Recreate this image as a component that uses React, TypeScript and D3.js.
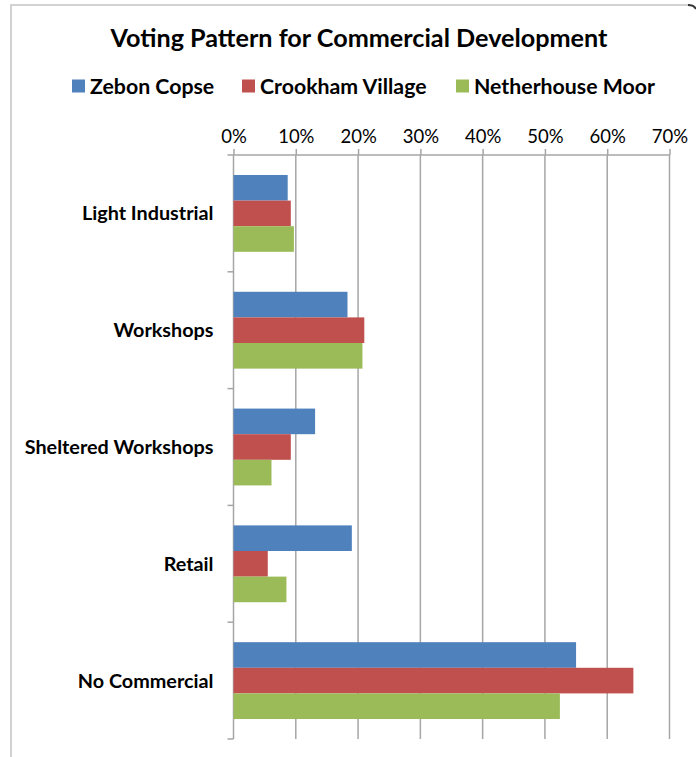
import { useEffect, useRef } from "react";
import { axisTop, scaleBand, scaleLinear, select } from "d3";

const categories = [
  "Light Industrial",
  "Workshops",
  "Sheltered Workshops",
  "Retail",
  "No Commercial",
];
const seriesNames = ["Zebon Copse", "Crookham Village", "Netherhouse Moor"];
const seriesColors = ["#4f81bd", "#c0504d", "#9bbb59"];
const zebonCopse = [8.7, 18.3, 13.1, 19.0, 55.0];
const crookhamVillage = [9.2, 21.0, 9.2, 5.5, 64.2];
const netherhouseMoor = [9.7, 20.7, 6.1, 8.5, 52.4];
const xTicks = [0, 10, 20, 30, 40, 50, 60, 70];

const FONT = "Lato, 'Open Sans', sans-serif";

export default function App() {
  const svgRef = useRef<SVGSVGElement>(null);

  useEffect(() => {
    document.body.style.margin = "0";
    const svg = select(svgRef.current);
    svg.selectAll("*").remove();

    const W = 696;
    const H = 757;
    const left = 233.5;
    const right = 669.5;
    const top = 155;
    const bottom = 739;

    const series = [zebonCopse, crookhamVillage, netherhouseMoor];

    const x = scaleLinear().domain([0, 70]).range([left, right]);
    const y0 = scaleBand<string>().domain(categories).range([top, bottom]);
    const y1 = scaleBand<string>()
      .domain(seriesNames)
      .range([0, y0.bandwidth()])
      .paddingOuter(0.78)
      .paddingInner(0);

    svg.append("rect").attr("width", W).attr("height", H).attr("fill", "#fff");

    // outer frame
    svg
      .append("path")
      .attr("d", `M11,${H} V5 H688`)
      .attr("fill", "none")
      .attr("stroke", "#c4c4c4")
      .attr("stroke-width", 1.5);
    svg
      .append("path")
      .attr("d", "M688,5 Q694,5 696,9")
      .attr("fill", "none")
      .attr("stroke", "#333")
      .attr("stroke-width", 2);

    // title
    svg
      .append("text")
      .attr("x", 359)
      .attr("y", 47)
      .attr("text-anchor", "middle")
      .attr("font-family", FONT)
      .attr("font-weight", "bold")
      .attr("font-size", 25.2)
      .attr("fill", "#000")
      .text("Voting Pattern for Commercial Development");

    // legend
    const legendX = [72, 242, 456];
    seriesNames.forEach((name, i) => {
      const g = svg.append("g").attr("transform", `translate(${legendX[i]},86)`);
      g.append("rect")
        .attr("x", 0)
        .attr("y", -6.5)
        .attr("width", 13)
        .attr("height", 13)
        .attr("fill", seriesColors[i]);
      g.append("text")
        .attr("x", 18)
        .attr("y", 7.5)
        .attr("font-family", FONT)
        .attr("font-weight", "bold")
        .attr("font-size", 21.3)
        .attr("fill", "#000")
        .text(name);
    });

    // gridlines
    svg
      .append("g")
      .selectAll("line")
      .data(xTicks.slice(1))
      .join("line")
      .attr("x1", (d) => x(d))
      .attr("x2", (d) => x(d))
      .attr("y1", top)
      .attr("y2", bottom)
      .attr("stroke", "#a6a6a6")
      .attr("stroke-width", 1.5);

    // top axis
    const xAxis = axisTop(x)
      .tickValues(xTicks)
      .tickSize(6)
      .tickPadding(6)
      .tickFormat((d) => `${d}%`);
    const gx = svg
      .append("g")
      .attr("transform", `translate(0,${top})`)
      .call(xAxis as any);
    gx.select(".domain")
      .attr("d", `M${left - 6},0 H${right}`)
      .attr("stroke", "#a6a6a6")
      .attr("stroke-width", 1.5);
    gx.selectAll(".tick line").attr("stroke", "#a6a6a6").attr("stroke-width", 1.5);
    gx.selectAll(".tick text")
      .attr("font-family", FONT)
      .attr("font-size", 18.5)
      .attr("fill", "#000");

    // left axis with band boundary ticks
    svg
      .append("line")
      .attr("x1", left)
      .attr("x2", left)
      .attr("y1", top)
      .attr("y2", bottom)
      .attr("stroke", "#a6a6a6")
      .attr("stroke-width", 1.5);
    const boundaries = categories.map((c) => y0(c) as number).concat([bottom]);
    svg
      .append("g")
      .selectAll("line")
      .data(boundaries.slice(1))
      .join("line")
      .attr("x1", left - 6)
      .attr("x2", left)
      .attr("y1", (d) => d)
      .attr("y2", (d) => d)
      .attr("stroke", "#a6a6a6")
      .attr("stroke-width", 1.5);

    // category labels
    svg
      .append("g")
      .selectAll("text")
      .data(categories)
      .join("text")
      .attr("x", left - 20)
      .attr("y", (d) => (y0(d) as number) + y0.bandwidth() / 2 + 7)
      .attr("text-anchor", "end")
      .attr("font-family", FONT)
      .attr("font-weight", "bold")
      .attr("font-size", 19.8)
      .attr("fill", "#000")
      .text((d) => d);

    // bars
    categories.forEach((cat, ci) => {
      const g = svg.append("g").attr("transform", `translate(0,${y0(cat)})`);
      g.selectAll("rect")
        .data(seriesNames.map((name, si) => ({ name, value: series[si][ci], si })))
        .join("rect")
        .attr("x", x(0))
        .attr("y", (d) => y1(d.name) as number)
        .attr("width", (d) => x(d.value) - x(0))
        .attr("height", y1.bandwidth())
        .attr("fill", (d) => seriesColors[d.si]);
    });
  }, []);

  return <svg ref={svgRef} width={696} height={757} style={{ display: "block" }} />;
}
